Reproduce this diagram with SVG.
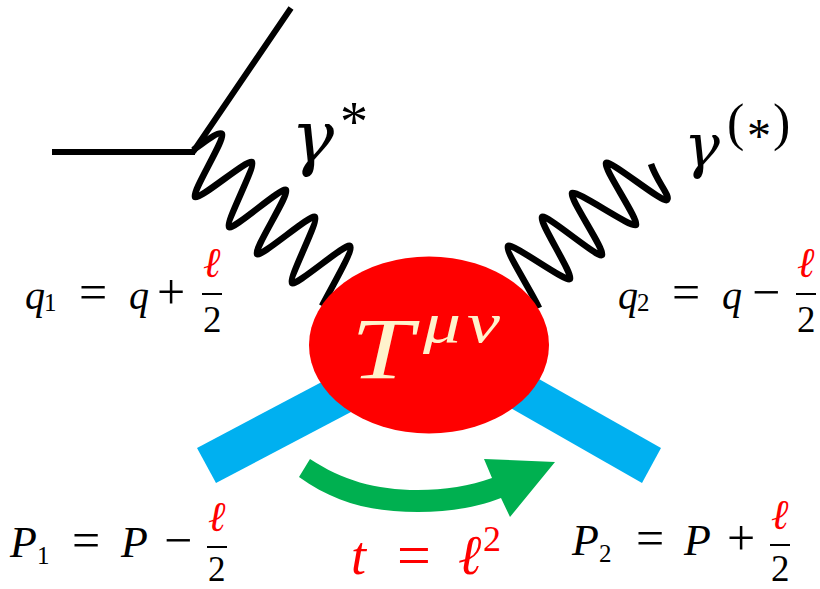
<svg xmlns="http://www.w3.org/2000/svg" width="820" height="589" viewBox="0 0 820 589">
<style>
text{font-family:"Liberation Serif","DejaVu Serif",serif;fill:#000}
.i{font-style:italic}
.g{font-family:"DejaVu Serif","Liberation Serif",serif;font-style:italic}
.r{fill:#f00}
.wire{fill:none;stroke:#000;stroke-width:6}
.wig{fill:none;stroke:#000;stroke-width:6.5;stroke-linejoin:round;stroke-linecap:butt}
.bar{fill:#000;stroke:none}
.f{font-size:37px}
.e{font-size:42px}
.v{font-size:40px}
.o{font-size:50px}
.P{font-size:44px}
.s{font-size:25px}
.c{fill:#fff2cc}
</style>
<rect width="820" height="589" fill="#fff"/>
<g id="connectors">
<path class="wire" d="M52 152H195M291 8L193 152"/>
<path class="wig" d="M193 150C200 146 218 130.4 222 134C226 137.6 191 193.4 195 197C199 200.6 248 158.4 252 162C256 165.6 225 223.4 229 227C233 230.6 282 186.4 286 190C290 193.6 253 250.4 257 254C261 257.6 311 213.4 315 217C319 220.6 288 279.4 292 283C296 286.6 346 242.4 350 246C354 249.6 330 290 322 306"/>
<path class="wig" d="M539 308C532 292 504.2 249.8 508 246C511.8 242.2 566.2 282.8 570 279C573.8 275.2 538.2 220.8 542 217C545.8 213.2 598.2 258.8 602 255C605.8 251.2 568.2 196.8 572 193C575.8 189.2 632.2 228.8 636 225C639.8 221.2 602.2 166.8 606 163C609.8 159.2 663.2 203.8 667 200C670.8 196.2 657 182 651 164"/>
<polygon id="incoming" fill="#00b0f0" points="197,448 216,483 370,402 335,375"/>
<polygon id="outgoing" fill="#00b0f0" points="661,448 642,483 495,399 523,370"/>
<path id="transfer" fill="#00b050" d="M310 459L299 477C335 503 372 512 418 512C450 512 478 507 501 498L510 517L555 462L484 459L492 478C470 486 445 490 418 490C375 490 342 480 310 459Z"/>
</g>
<g id="hadron"><ellipse cx="429" cy="345" rx="120" ry="88.5" fill="#f00"/>
<text class="i c" x="351" y="378" font-size="86" textLength="62" lengthAdjust="spacingAndGlyphs">T</text>
<text class="i c" x="423" y="342" font-size="56" textLength="38" lengthAdjust="spacingAndGlyphs">μ</text><text class="i c" x="467" y="342" font-size="56" textLength="33" lengthAdjust="spacingAndGlyphs">ν</text></g>
<g id="label-gamma-star"><text class="g" x="291" y="162" font-size="72">γ</text><text x="340" y="141" font-size="56">*</text></g>
<g id="label-gamma-paren"><text class="g" x="684" y="167" font-size="60">γ</text><text x="727" y="140" font-size="52">(</text><text x="747" y="152" font-size="48">*</text><text x="773" y="140" font-size="52">)</text></g>
<g id="label-q1"><text class="i v" x="25" y="309">q</text><text class="s" x="44" y="311">1</text><text class="o" x="79" y="309">=</text><text class="i v" x="129" y="309">q</text><text class="o" x="157" y="309">+</text><text class="i r e" x="203" y="277">ℓ</text><rect class="bar" x="202" y="293" width="20" height="2"/><text class="f" x="203" y="332">2</text></g>
<g id="label-q2"><text class="i v" x="618" y="309">q</text><text class="s" x="637" y="311">2</text><text class="o" x="672" y="309">=</text><text class="i v" x="722" y="309">q</text><text class="o" x="752" y="309">−</text><text class="i r e" x="797" y="277">ℓ</text><rect class="bar" x="796" y="293" width="20" height="2"/><text class="f" x="797" y="332">2</text></g>
<g id="label-p1"><text class="i P" x="10" y="557">P</text><text class="s" x="37" y="564">1</text><text class="o" x="72" y="557">=</text><text class="i P" x="121" y="557">P</text><text class="o" x="164" y="557">−</text><text class="i r e" x="208" y="531">ℓ</text><rect class="bar" x="207" y="546" width="20" height="2"/><text x="208" y="581" font-size="35">2</text></g>
<g id="label-p2"><text class="i P" x="572" y="555">P</text><text class="s" x="599" y="562">2</text><text class="o" x="636" y="555">=</text><text class="i P" x="684" y="555">P</text><text class="o" x="727" y="555">+</text><text class="i r e" x="771" y="529">ℓ</text><rect class="bar" x="770" y="544" width="20" height="2"/><text class="f" x="771" y="581">2</text></g>
<g id="label-t"><text class="i r" x="351" y="574" font-size="54">t</text><text class="r" x="397" y="575" font-size="60">=</text><text class="i r" x="458" y="574" font-size="56">ℓ</text><text class="r" x="483" y="551" font-size="36">2</text></g>
</svg>
